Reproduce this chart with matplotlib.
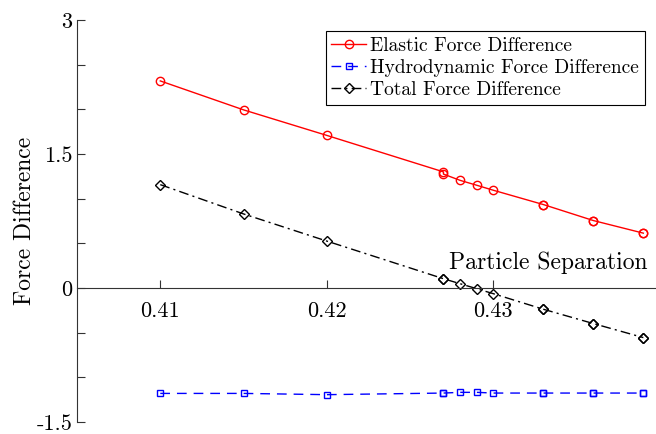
import numpy as np
import matplotlib
matplotlib.use("Agg")
import matplotlib.pyplot as plt
from matplotlib.ticker import FixedLocator, FixedFormatter

plt.rcParams['font.family'] = 'serif'
plt.rcParams['font.serif'] = ['cmr10', 'DejaVu Serif']
plt.rcParams['mathtext.fontset'] = 'cm'
plt.rcParams['axes.unicode_minus'] = False

# particle separation values (repeated points where the picture shows doubled markers)
sep = [0.41, 0.415, 0.42, 0.427, 0.427, 0.428, 0.429, 0.430, 0.433, 0.433, 0.436, 0.436, 0.439, 0.439]
elastic = [2.318, 1.994, 1.708, 1.300, 1.275, 1.205, 1.150, 1.094, 0.934, 0.934, 0.755, 0.755, 0.614, 0.614]
hydro = [-1.180, -1.180, -1.194, -1.176, -1.176, -1.168, -1.168, -1.176, -1.176, -1.176, -1.176, -1.176, -1.176, -1.176]
total = [1.157, 0.829, 0.525, 0.104, 0.104, 0.048, -0.008, -0.064, -0.238, -0.238, -0.398, -0.398, -0.555, -0.555]

xticks = [0.41, 0.42, 0.43]
xticklabels = ['0.41', '0.42', '0.43']
yticks = [-1.5, 0, 1.5, 3]
yticklabels = ['-1.5', '0', '1.5', '3']
yminor = [-1.0, -0.5, 0.5, 1.0, 2.0, 2.5]

fig = plt.figure(figsize=(6.56, 4.34), dpi=100)
ax = fig.add_axes([77/656, 12/434, 583/656, 402/434])

ax.plot(sep, elastic, color='#ff0000', lw=1.0, marker='o', ms=6, mfc='none', mew=1.0,
        label='Elastic Force Difference')
ax.plot(sep, hydro, color='#0000ff', lw=1.0, ls=(0, (7, 5)), marker='s', ms=5, mfc='none', mew=1.0,
        label='Hydrodynamic Force Difference')
ax.plot(sep, total, color='black', lw=1.0, ls=(0, (7, 3, 1.5, 3)), marker='D', ms=5, mfc='none', mew=1.0,
        label='Total Force Difference')

ax.set_xlim(0.405, 0.44)
ax.set_ylim(-1.5, 3)

ax.spines['top'].set_visible(False)
ax.spines['right'].set_visible(False)
ax.spines['bottom'].set_position(('data', 0))
ax.spines['bottom'].set_color('#333333')
ax.spines['left'].set_color('#333333')

ax.xaxis.set_major_locator(FixedLocator(xticks))
ax.xaxis.set_major_formatter(FixedFormatter(xticklabels))
ax.yaxis.set_major_locator(FixedLocator(yticks))
ax.yaxis.set_major_formatter(FixedFormatter(yticklabels))
ax.yaxis.set_minor_locator(FixedLocator(yminor))
ax.tick_params(axis='both', which='both', direction='in', length=6, width=0.8, labelsize=16, color='#333333')
ax.tick_params(axis='x', pad=10)

ax.set_ylabel('Force Difference', fontsize=17, labelpad=0)
ax.set_xlabel('Particle Separation', fontsize=17, ha='right', va='center')
ax.xaxis.set_label_coords(0.979, 0.395)

leg = ax.legend(loc='upper right', bbox_to_anchor=(0.974, 0.973), fontsize=14, fancybox=False,
                edgecolor='black', framealpha=1, handlelength=1.8, handletextpad=0.2,
                borderpad=0.3, labelspacing=0.22, borderaxespad=0)
leg.get_frame().set_linewidth(0.8)

fig.savefig('out.png', dpi=100)
